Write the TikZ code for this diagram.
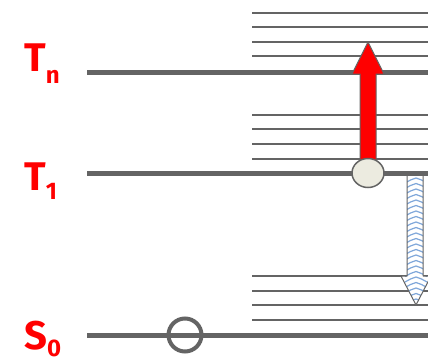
\documentclass[tikz,border=0pt]{standalone}
\usepackage{fontspec}
\setmainfont{Fira Sans}
\usetikzlibrary{shapes.geometric}
\definecolor{lvl}{HTML}{646464}
\definecolor{wave}{HTML}{7FA7DA}
\definecolor{pale}{HTML}{ECEBE0}
\newcommand\levsub[2]{\raisebox{#1}{\fontsize{24}{24}\selectfont\bfseries #2}}

\begin{document}
\begin{tikzpicture}[x=1pt,y=-1pt,
    level/.style={draw=lvl,line width=5pt},
    sublevel/.style={draw=lvl,line width=2pt},
    lab/.style={text=red,font=\fontsize{40}{40}\selectfont\bfseries,inner sep=0pt,anchor=base west}]
  \useasboundingbox (0,0) rectangle (428,361);
  % vibrational sublevels
  \foreach \y in {13,27,42,56,115,129,144,159,276,291,305,320}
    \draw[sublevel] (252,\y) -- (428,\y);
  % electronic levels
  \coordinate (TnA) at (87,72);  \coordinate (TnB) at (428,72);
  \coordinate (ToA) at (87,173); \coordinate (ToB) at (428,173);
  \coordinate (SoA) at (87,335); \coordinate (SoB) at (428,335);
  \path[level]
    (TnA) edge (TnB)
    (ToA) edge (ToB)
    (SoA) edge (SoB);
  \node[lab] (Tn) at (24,71) {T\levsub{-12pt}{n}};
  \node[lab] (To) at (24,190) {T\levsub{-9pt}{1}};
  \node[lab] (So) at (24,349) {S\levsub{-7pt}{0}};
  % absorption T1 -> Tn
  \draw[draw=lvl,fill=red,line width=1pt,line join=round]
    (360,173) -- (360,74) -- (352,74) -- (368,42) -- (384,74) -- (376,74) -- (376,173) -- cycle;
  \node[ellipse,draw=lvl,fill=pale,line width=1.5pt,minimum width=32pt,minimum height=29pt,inner sep=0pt] (exc) at (368,173) {};
  % radiationless decay
  \begin{scope}
    \fill[white] (407,176) -- (407,276) -- (401,276) -- (416,305) -- (431,276) -- (423,276) -- (423,176) -- cycle;
    \clip (407,176) -- (407,276) -- (401,276) -- (416,305) -- (431,276) -- (423,276) -- (423,176) -- cycle;
    \foreach \y in {180,185.5,...,305}
      \draw[wave,line width=1.2pt,line join=round] (405,\y+3) -- (410.5,\y) -- (416,\y-2) -- (421.5,\y) -- (427,\y+3);
  \end{scope}
  \draw[draw=lvl,line width=1pt,line join=round]
    (407,176) -- (407,276) -- (401,276) -- (416,305) -- (431,276) -- (423,276) -- (423,176);
  % ground state
  \node[circle,draw=lvl,line width=4pt,minimum size=33pt,inner sep=0pt] (gs) at (185,335) {};
\end{tikzpicture}
\end{document}
